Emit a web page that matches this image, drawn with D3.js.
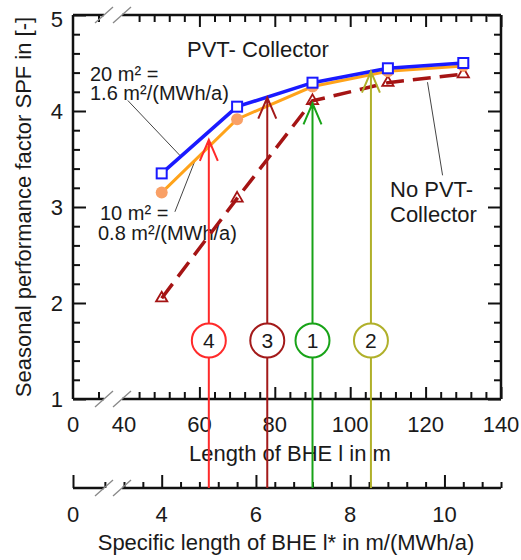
<!DOCTYPE html>
<html>
<head>
<meta charset="utf-8">
<script src="https://cdn.jsdelivr.net/npm/d3@7"></script>
<style>
  body { margin: 0; background: #fff; }
  text { font-family: "Liberation Sans", Arial, sans-serif; fill: #1a1a1a; }
</style>
</head>
<body>
<script>
// BHE length in m, specific length l* = l / 12.5 MWh/a
var lengths = [50, 70, 90, 110, 130];
var spf20 = [3.35, 4.045, 4.295, 4.445, 4.5];   // 20 m2 PVT
var spf10 = [3.15, 3.915, 4.255, 4.415, 4.47];  // 10 m2 PVT
var spfNone = [2.05, 3.09, 4.105, 4.295, 4.385]; // no PVT

var heatDemand = 12.5;

var xTickLabels = [0, 40, 60, 80, 100, 120, 140];
var xsTickLabels = [0, 4, 6, 8, 10];
var yTickLabels = [1, 2, 3, 4, 5];

// numbered cases: arrow position (m), arrow tip (SPF)
var caseIds = ["4", "3", "1", "2"];
var caseLengths = [62.5, 78, 90, 105.5];
var caseTips = [3.70, 4.14, 4.08, 4.41];
var caseColors = ["#ff2a2a", "#a31a1a", "#18a318", "#b0b02a"];

var width = 521, height = 560,
    plotL = 73, plotR = 501, plotT = 15, plotB = 399,
    axis2Y = 488, breakA = 104, breakB = 122;

var svg = d3.select("body").append("svg")
    .attr("width", width).attr("height", height);

var x = d3.scaleLinear().domain([0, 40, 140]).range([plotL, 124, plotR]);
var xs = d3.scaleLinear().domain([0, 40 / heatDemand, 140 / heatDemand]).range([plotL, 124, plotR]);
var y = d3.scaleLinear().domain([1, 5]).range([plotB, plotT]);

var minorX = [20].concat(d3.range(44, 141, 4).filter(function(d) { return d % 20 != 0; }));
var majorX = [60, 80, 100, 120, 140];
var minorY = d3.range(1, 5.01, 0.2).map(function(d) { return +d.toFixed(1); })
    .filter(function(d) { return d % 1 != 0; });
var majorY = [1, 2, 3, 4, 5];
var minorXs = [2].concat(d3.range(3.2, 11.21, 0.4).map(function(d) { return +d.toFixed(1); })
    .filter(function(d) { return d % 2 != 0; }));
var majorXs = [4, 6, 8, 10];

function tickAxis(g, axis) {
    g.call(axis);
    g.select(".domain").remove();
    g.selectAll("line").attr("stroke", "#111").attr("stroke-width", 2);
}

// ticks, all pointing inward
tickAxis(svg.append("g").attr("transform", "translate(0," + plotB + ")"),
    d3.axisBottom(x).tickValues(minorX).tickSize(-7).tickFormat(""));
tickAxis(svg.append("g").attr("transform", "translate(0," + plotB + ")"),
    d3.axisBottom(x).tickValues(majorX).tickSize(-12).tickFormat(""));
tickAxis(svg.append("g").attr("transform", "translate(0," + plotT + ")"),
    d3.axisTop(x).tickValues(minorX).tickSize(-7).tickFormat(""));
tickAxis(svg.append("g").attr("transform", "translate(0," + plotT + ")"),
    d3.axisTop(x).tickValues(majorX).tickSize(-12).tickFormat(""));
tickAxis(svg.append("g").attr("transform", "translate(" + plotL + ",0)"),
    d3.axisLeft(y).tickValues(minorY).tickSize(-7).tickFormat(""));
tickAxis(svg.append("g").attr("transform", "translate(" + plotL + ",0)"),
    d3.axisLeft(y).tickValues(majorY).tickSize(-13).tickFormat(""));
tickAxis(svg.append("g").attr("transform", "translate(" + plotR + ",0)"),
    d3.axisRight(y).tickValues(minorY).tickSize(-7).tickFormat(""));
tickAxis(svg.append("g").attr("transform", "translate(" + plotR + ",0)"),
    d3.axisRight(y).tickValues(majorY).tickSize(-13).tickFormat(""));
tickAxis(svg.append("g").attr("transform", "translate(0," + axis2Y + ")"),
    d3.axisBottom(xs).tickValues(minorXs).tickSize(-6).tickFormat(""));
tickAxis(svg.append("g").attr("transform", "translate(0," + axis2Y + ")"),
    d3.axisBottom(xs).tickValues([0].concat(majorXs)).tickSize(-13).tickFormat(""));

// frame with breaks
var frame = svg.append("g").attr("stroke", "#111").attr("stroke-width", 2.5).attr("fill", "none");
frame.append("path").attr("d",
    "M" + plotL + "," + plotT + "V" + plotB +
    "M" + plotR + "," + plotT + "V" + plotB);
[plotT, plotB, axis2Y].forEach(function(yy) {
    frame.append("path").attr("d",
        "M" + plotL + "," + yy + "H" + breakA + "M" + breakB + "," + yy + "H" + plotR);
    [breakA, breakB].forEach(function(bx) {
        svg.append("line")
            .attr("x1", bx - 9).attr("y1", yy + 8)
            .attr("x2", bx + 9).attr("y2", yy - 8)
            .attr("stroke", "#888").attr("stroke-width", 1.3);
    });
});

// tick labels
svg.append("g").selectAll("text").data(xTickLabels).join("text")
    .attr("x", function(d) { return x(d); }).attr("y", 432)
    .attr("text-anchor", "middle").attr("font-size", 22)
    .text(function(d) { return d; });
svg.append("g").selectAll("text").data(xsTickLabels).join("text")
    .attr("x", function(d) { return xs(d); }).attr("y", 522)
    .attr("text-anchor", "middle").attr("font-size", 22)
    .text(function(d) { return d; });
svg.append("g").selectAll("text").data(yTickLabels).join("text")
    .attr("x", 63).attr("y", function(d) { return y(d) + 8 + (d == 5 ? 4 : 0); })
    .attr("text-anchor", "end").attr("font-size", 22)
    .text(function(d) { return d; });

// axis titles
svg.append("text").attr("x", 290).attr("y", 461)
    .attr("text-anchor", "middle").attr("font-size", 22)
    .text("Length of BHE l in m");
svg.append("text").attr("x", 286).attr("y", 550)
    .attr("text-anchor", "middle").attr("font-size", 22)
    .text("Specific length of BHE l* in m/(MWh/a)");
svg.append("text")
    .attr("transform", "translate(31," + ((plotT + plotB) / 2) + ") rotate(-90)")
    .attr("text-anchor", "middle").attr("font-size", 22)
    .text("Seasonal performance factor SPF in [-]");

// annotations
svg.append("text").attr("x", 187).attr("y", 57).attr("font-size", 22).text("PVT- Collector");
var note20 = svg.append("text").attr("font-size", 20);
note20.append("tspan").attr("x", 90).attr("y", 81).text("20 m² =");
note20.append("tspan").attr("x", 90).attr("y", 100).text("1.6 m²/(MWh/a)");
var note10 = svg.append("text").attr("font-size", 20);
note10.append("tspan").attr("x", 100).attr("y", 220).text("10 m² =");
note10.append("tspan").attr("x", 98).attr("y", 240).text("0.8 m²/(MWh/a)");
var noteNo = svg.append("text").attr("font-size", 22);
noteNo.append("tspan").attr("x", 390).attr("y", 197).text("No PVT-");
noteNo.append("tspan").attr("x", 390).attr("y", 222).text("Collector");

// leader lines, in data units
var leaders = [[[41, 4.11], [55, 3.53]], [[53.5, 2.95], [58.9, 3.49]], [[124.5, 3.33], [120.5, 4.30]]];
svg.append("g").selectAll("line").data(leaders).join("line")
    .attr("x1", function(d) { return x(d[0][0]); }).attr("y1", function(d) { return y(d[0][1]); })
    .attr("x2", function(d) { return x(d[1][0]); }).attr("y2", function(d) { return y(d[1][1]); })
    .attr("stroke", "#444").attr("stroke-width", 1);

// series
function series(vals, color, w, dash) {
    var pts = lengths.map(function(l, i) { return [x(l), y(vals[i])]; });
    svg.append("path").attr("d", d3.line()(pts))
        .attr("fill", "none").attr("stroke", color).attr("stroke-width", w)
        .attr("stroke-dasharray", dash || null);
    return pts;
}

var ptsNone = series(spfNone, "#a51414", 3.5, "18,9");
svg.append("g").selectAll("path").data(ptsNone).join("path")
    .attr("transform", function(d) { return "translate(" + d[0] + "," + d[1] + ")"; })
    .attr("d", d3.symbol(d3.symbolTriangle, 55))
    .attr("fill", "none").attr("stroke", "#a51414").attr("stroke-width", 1.8);

var pts10 = series(spf10, "#ffa31a", 3);
svg.append("g").selectAll("circle").data(pts10).join("circle")
    .attr("cx", function(d) { return d[0]; }).attr("cy", function(d) { return d[1]; })
    .attr("r", 6).attr("fill", "#f9a066");

var pts20 = series(spf20, "#1a1aff", 3.5);
svg.append("g").selectAll("rect").data(pts20).join("rect")
    .attr("x", function(d) { return d[0] - 5; }).attr("y", function(d) { return d[1] - 5; })
    .attr("width", 10).attr("height", 10)
    .attr("fill", "#fff").attr("stroke", "#1a1aff").attr("stroke-width", 2);

// numbered arrows
var cases = caseIds.map(function(id, i) {
    return {id: id, x: x(caseLengths[i]), tip: y(caseTips[i]), color: caseColors[i]};
});
var cg = svg.append("g").selectAll("g").data(cases).join("g");
cg.append("path")
    .attr("d", function(d) {
        return "M" + d.x + "," + axis2Y + "V" + d.tip +
            "M" + (d.x - 9) + "," + (d.tip + 21) + "L" + d.x + "," + d.tip + "L" + (d.x + 9) + "," + (d.tip + 21);
    })
    .attr("fill", "none").attr("stroke", function(d) { return d.color; }).attr("stroke-width", 2);
cg.append("circle")
    .attr("cx", function(d) { return d.x; }).attr("cy", y(1.61)).attr("r", 17)
    .attr("fill", "#fff").attr("stroke", function(d) { return d.color; }).attr("stroke-width", 2);
cg.append("text")
    .attr("x", function(d) { return d.x; }).attr("y", y(1.61) + 7.5)
    .attr("text-anchor", "middle").attr("font-size", 21)
    .text(function(d) { return d.id; });
</script>
</body>
</html>
